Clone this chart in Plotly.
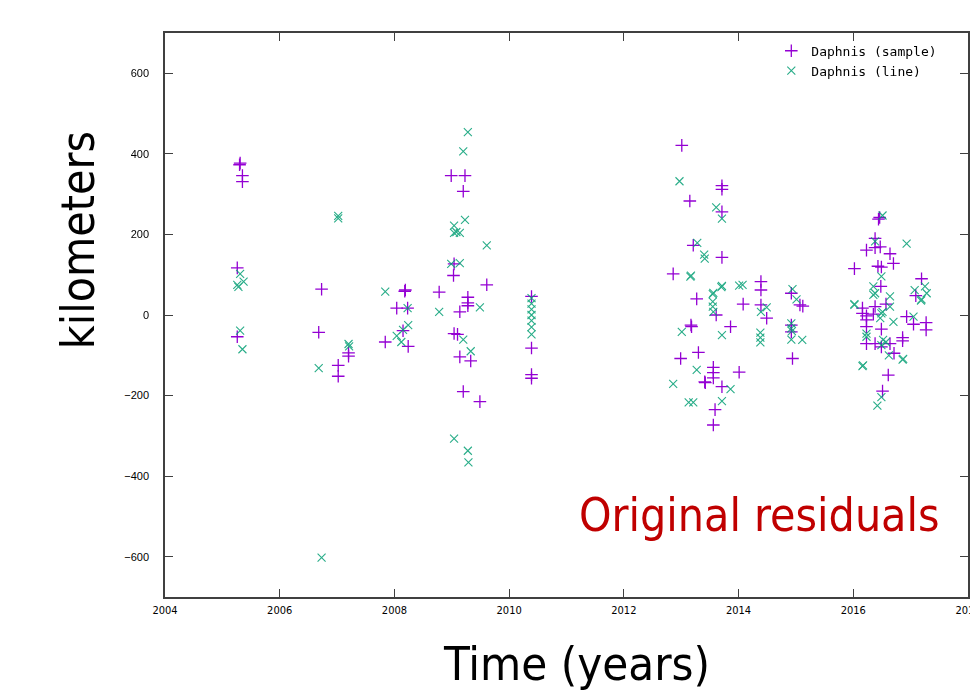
import plotly.graph_objects as go

# Daphnis (sample) residuals: time (decimal years), residual (km)
sample_t = [
    2005.31, 2005.30, 2005.35, 2005.35, 2005.26, 2005.26,
    2006.73, 2006.68, 2007.02, 2007.02, 2007.20, 2007.20,
    2007.84, 2008.04, 2008.18, 2008.19, 2008.15, 2008.23, 2008.24, 2008.78,
    2008.99, 2009.23, 2009.20, 2009.04, 2009.03, 2009.04, 2009.10, 2009.14, 2009.14,
    2009.28, 2009.28, 2009.28, 2009.33, 2009.20, 2009.49, 2009.61,
    2010.39, 2010.39, 2010.39, 2010.39,
    2013.01, 2013.15, 2013.71, 2013.71, 2013.71, 2013.71, 2013.71, 2013.21, 2012.86,
    2013.27, 2013.61, 2014.08, 2014.39, 2014.39, 2014.39, 2014.49, 2014.92, 2014.92,
    2014.92, 2014.94, 2015.07, 2015.12, 2013.86, 2013.17, 2013.18, 2013.30, 2012.99,
    2014.01, 2013.56, 2013.56, 2013.56, 2013.41, 2013.42, 2013.59, 2013.56,
    2016.44, 2016.46, 2016.38, 2016.23, 2016.38, 2016.47, 2016.64, 2016.70, 2016.02,
    2016.43, 2016.49, 2016.48, 2017.19, 2017.09, 2016.57, 2016.16, 2016.16, 2016.23,
    2016.35, 2016.23, 2016.93, 2017.05, 2017.27, 2017.27, 2016.49, 2016.23, 2016.23,
    2016.38, 2016.64, 2016.86, 2016.86, 2016.71, 2016.61, 2016.51, 2016.49, 2016.38,
]
sample_km = [
    377, 373, 346, 331, 117, -54,
    64, -43, -125, -152, -94, -102,
    -67, 17, 59, 62, -39, 17, -78, 57,
    346, 346, 307, 127, 98, -46, -48, 8, -104,
    44, 30, 23, -114, -190, -215, 75,
    46, -82, -148, -157,
    421, 283, 321, 312, 256, 143, -178, 173, 102,
    40, 0, 27, 83, 62, 25, -8, 54, -25,
    -42, -108, 25, 22, -29, -25, -29, -93, -108,
    -142, -130, -143, -156, -166, -168, -235, -273,
    238, 242, 190, 161, 167, 169, 152, 128, 115,
    121, 119, 71, 90, 48, 27, 17, 4, -2,
    2, -12, -4, -23, -19, -37, -35, -29, -71,
    -71, -71, -56, -64, -95, -149, -189, -79, 21,
]

# Daphnis (line) residuals
line_t = [
    2005.31, 2005.37, 2005.26, 2005.28, 2005.31, 2005.35,
    2007.02, 2007.02, 2006.68, 2007.20, 2007.21, 2006.73,
    2007.84, 2008.23, 2008.24, 2008.15, 2008.04, 2008.12, 2008.78,
    2009.28, 2009.20, 2009.23, 2009.04, 2009.08, 2009.14, 2009.04, 2009.61, 2008.99,
    2009.14, 2009.49, 2009.20, 2009.33, 2009.04, 2009.28, 2009.29,
    2010.39, 2010.39, 2010.39, 2010.39, 2010.39, 2010.39, 2010.39,
    2012.97, 2013.61, 2013.71, 2013.28, 2013.40, 2013.41, 2013.17, 2013.16, 2014.01,
    2014.07, 2013.71, 2013.70, 2013.56, 2013.55, 2013.55, 2013.55, 2013.56, 2014.39,
    2014.49, 2014.94, 2015.01, 2014.92, 2014.92, 2014.93, 2014.92, 2015.11, 2014.38,
    2014.38, 2014.38, 2013.01, 2013.71, 2013.27, 2012.86, 2013.86, 2013.13, 2013.21,
    2013.71,
    2016.51, 2016.93, 2016.38, 2016.49, 2016.35, 2016.35, 2016.38, 2016.64, 2016.02,
    2017.07, 2017.25, 2017.28, 2017.19, 2017.18, 2016.64, 2016.49, 2016.47, 2016.70,
    2017.05, 2016.23, 2016.23, 2016.57, 2016.52, 2016.49, 2016.62, 2016.86, 2016.87,
    2016.16, 2016.17, 2016.49, 2016.42, 2016.51, 2016.02,
]
line_km = [
    102, 83, 75, 70, -39, -85,
    246, 240, -132, -72, -78, -602,
    58, 17, -25, -37, -52, -67, 8,
    454, 406, 236, 222, 206, 204, 204, 173, 127,
    129, 19, -61, -90, -307, -337, -366,
    42, 28, 14, 0, -14, -30, -48,
    332, 267, 239, 179, 150, 140, 98, 95, 73,
    75, 72, 69, 55, 52, 33, 21, 8, 8,
    19, 64, 39, -21, -33, -40, -61, -62, -44,
    -56, -68, -42, -50, -136, -171, -184, -217, -217,
    -214,
    247, 177, 183, 96, 71, 50, 54, 46, 27,
    62, 71, 54, 39, 36, 21, 4, -8, -17,
    -4, -46, -54, -67, -62, -75, -100, -111, -109,
    -127, -125, -204, -225, 8, 25,
]

x_ticks = [2004, 2006, 2008, 2010, 2012, 2014, 2016, 2018]
y_ticks = [-600, -400, -200, 0, 200, 400, 600]

PURPLE = "#9400d3"
GREEN = "#009e73"

fig = go.Figure()
fig.add_trace(go.Scatter(
    x=sample_t, y=sample_km, mode="markers", name="Daphnis (sample)",
    marker=dict(symbol="cross-thin", size=9, line=dict(color=PURPLE, width=1.3), color=PURPLE),
))
fig.add_trace(go.Scatter(
    x=line_t, y=line_km, mode="markers", name="Daphnis (line)",
    marker=dict(symbol="x-thin", size=8, line=dict(color=GREEN, width=1.1), color=GREEN),
    opacity=0.85,
))

axis_common = dict(
    showgrid=False, zeroline=False, showline=True, linecolor="#404040", linewidth=1.5,
    mirror="ticks", ticks="inside", ticklen=8, tickcolor="#404040", tickwidth=1.2,
    automargin=False,
)

fig.update_layout(
    width=970, height=691,
    paper_bgcolor="white", plot_bgcolor="white",
    margin=dict(l=165, r=2, t=33, b=94),
    showlegend=True,
    legend=dict(
        x=0.968, y=0.995, xanchor="right", yanchor="top",
        bgcolor="rgba(0,0,0,0)", font=dict(family="DejaVu Sans Mono", size=13, color="black"),
        tracegroupgap=0,
    ),
    xaxis=dict(
        range=[2004, 2018], tickvals=x_ticks, ticktext=[str(v) for v in x_ticks],
        tickfont=dict(family="DejaVu Sans Condensed", size=11, color="black"),
        ticklabelstandoff=2, ticklabeloverflow="allow",
        **axis_common,
    ),
    yaxis=dict(
        range=[-700, 700], tickvals=y_ticks,
        tickfont=dict(family="Liberation Sans", size=11, color="black"),
        ticklabelstandoff=12,
        **axis_common,
    ),
    annotations=[
        dict(
            text="Original residuals", xref="paper", yref="paper", x=0.968, y=0.145,
            xanchor="right", yanchor="middle", showarrow=False,
            font=dict(family="DejaVu Sans Condensed", size=46, color="#c00000"),
        ),
        dict(
            text="kilometers", xref="paper", yref="paper", x=-0.108, y=0.633,
            xanchor="center", yanchor="middle", textangle=-90, showarrow=False,
            font=dict(family="DejaVu Sans Condensed", size=46, color="black"),
        ),
        dict(
            text="Time (years)", xref="paper", yref="paper", x=0.513, y=-0.118,
            xanchor="center", yanchor="middle", showarrow=False,
            font=dict(family="DejaVu Sans Condensed", size=47, color="black"),
        ),
    ],
)

fig.write_html(
    "out.html",
    config={"displayModeBar": False},
    post_script="document.body.style.margin='0';document.body.style.overflow='hidden';",
)
